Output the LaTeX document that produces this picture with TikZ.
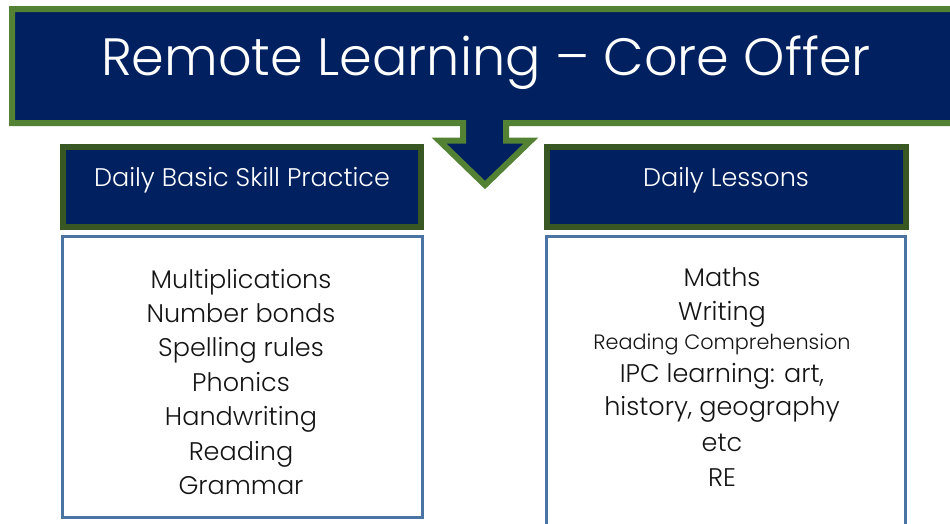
\documentclass[tikz,border=0pt]{standalone}
\usepackage{fontspec}
\setmainfont{Poppins Light}
\definecolor{navy}{RGB}{0,32,96}
\definecolor{titlegreen}{RGB}{84,130,53}
\definecolor{headgreen}{RGB}{56,87,35}
\definecolor{boxblue}{RGB}{74,116,164}
\definecolor{ink}{RGB}{20,20,20}
\begin{document}
\begin{tikzpicture}[x=1pt,y=-1pt,
  titleshape/.style={fill=navy,draw=titlegreen,line width=6pt,line join=miter},
  headbox/.style={fill=navy,draw=headgreen,line width=6pt},
  listbox/.style={draw=boxblue,line width=2.5pt},
  titletext/.style={text=white,font=\fontsize{52.5}{60}\selectfont,anchor=base,inner sep=0pt},
  headtext/.style={text=white,font=\fontsize{25.5}{30}\selectfont,anchor=base,inner sep=0pt},
  itemtext/.style={text=ink,font=\fontsize{25.5}{28}\selectfont,anchor=base,inner sep=0pt},
  smalltext/.style={text=ink,font=\fontsize{20.8}{22}\selectfont,anchor=base,inner sep=0pt}]
\useasboundingbox (0,0) rectangle (950,523);
% title with down arrow
\draw[titleshape] (12,9) -- (962,9) -- (962,123) -- (506,123) -- (506,140.5) -- (531,140.5)
  -- (485,185) -- (439,140.5) -- (463,140.5) -- (463,123) -- (12,123) -- cycle;
\node[titletext] (title) at (486,75) {Remote Learning – Core Offer};
% headers
\draw[headbox] (63,147) rectangle (421,227);
\draw[headbox] (547,147) rectangle (906,227);
\node[headtext] (h1) at (242,186) {Daily Basic Skill Practice};
\node[headtext] (h2) at (726,186) {Daily Lessons};
% list boxes
\draw[listbox] (62.5,236.5) rectangle (422.5,517.5);
\draw[listbox] (546.5,236.5) rectangle (905.5,530);
% left items
\node[itemtext] (l1) at (241,288) {Multiplications};
\node[itemtext] (l2) at (241,322.4) {Number bonds};
\node[itemtext] (l3) at (241,356.8) {Spelling rules};
\node[itemtext] (l4) at (241,391.2) {Phonics};
\node[itemtext] (l5) at (241,425.6) {Handwriting};
\node[itemtext] (l6) at (241,460) {Reading};
\node[itemtext] (l7) at (241,494.4) {Grammar};
% right items
\node[itemtext] (r1) at (722,286) {Maths};
\node[itemtext] (r2) at (722,320) {Writing};
\node[smalltext] (r3) at (722,349) {Reading Comprehension};
\node[itemtext] (r4) at (722,382) {IPC learning: art,};
\node[itemtext] (r5) at (722,415) {history, geography};
\node[itemtext] (r6) at (722,451) {etc};
\node[itemtext] (r7) at (722,486) {RE};
\end{tikzpicture}
\end{document}
